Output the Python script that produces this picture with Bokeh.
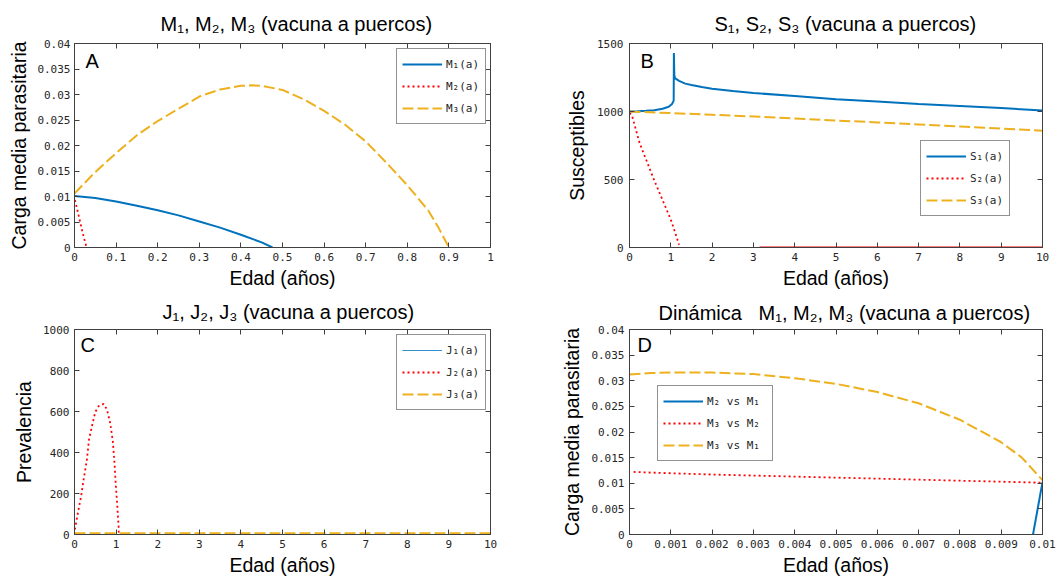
from bokeh.plotting import figure
from bokeh.models import Range1d, FixedTicker, LinearAxis, Label, Title
from bokeh.layouts import column, row
from bokeh.embed import file_html
from bokeh.resources import INLINE

# ---------------- data ----------------
# Panel A
a_m1_x = [0, 0.05, 0.1, 0.15, 0.2, 0.25, 0.3, 0.35, 0.4, 0.45, 0.476]
a_m1_y = [0.0101, 0.0097, 0.0090, 0.0082, 0.0073, 0.0063, 0.0051, 0.0039, 0.0025, 0.0010, 0.0]
a_m2_x = [0.001, 0.007, 0.013, 0.019, 0.025, 0.028]
a_m2_y = [0.0093, 0.0073, 0.0052, 0.0031, 0.0012, 0.0003]
a_m3_x = [0, 0.05, 0.1, 0.15, 0.2, 0.25, 0.3, 0.35, 0.4, 0.425, 0.45, 0.5, 0.55, 0.6, 0.65, 0.7, 0.75, 0.8,
          0.85, 0.875, 0.9]
a_m3_y = [0.0106, 0.0148, 0.0185, 0.0220, 0.0248, 0.0272, 0.0296, 0.0310, 0.0317, 0.0318, 0.0317, 0.0309,
          0.0291, 0.0268, 0.0241, 0.0208, 0.0166, 0.0122, 0.0073, 0.0039, 0.0]

# Panel B
b_s1_x = [0, 0.2, 0.4, 0.6, 0.8, 0.95, 1.03, 1.07, 1.075, 1.085, 1.1, 1.2, 1.35, 1.5, 1.75, 2, 2.5, 3, 4, 5, 6, 7, 8, 9, 10]
b_s1_y = [1000, 1002, 1005, 1010, 1020, 1035, 1055, 1080, 1430, 1270, 1245, 1225, 1205, 1195, 1180, 1168, 1150,
          1136, 1114, 1090, 1073, 1055, 1040, 1025, 1007]
b_s2_x = [0, 0.06, 0.15, 0.23, 0.3, 0.45, 0.6, 0.8, 1.0, 1.1, 1.2]
b_s2_y = [990, 970, 872, 782, 725, 610, 493, 350, 205, 115, 20]
b_s2_tail_x = [3.15, 10]
b_s2_tail_y = [0, 0]
b_s3_x = [0, 1, 2, 3, 4, 5, 6, 7, 8, 9, 10]
b_s3_y = [1000, 988, 976, 963, 949, 934, 920, 905, 890, 875, 858]

# Panel C
c_j1_x = [0, 10]
c_j1_y = [0, 0]
c_j2_x = [0, 0.016, 0.08, 0.16, 0.216, 0.296, 0.35, 0.43, 0.5, 0.58, 0.7, 0.78, 0.857, 0.92, 0.96, 0.99, 1.03, 1.06, 1.065]
c_j2_y = [0, 31, 104, 187, 264, 361, 465, 538, 598, 626, 637, 610, 545, 457, 353, 249, 136, 39, 7]
c_j3_x = [0, 10]
c_j3_y = [6, 6]

# Panel D
d_m21_x = [0.00977, 0.01]
d_m21_y = [0.0, 0.0102]
d_m32_x = [0.0001, 0.001, 0.002, 0.003, 0.004, 0.005, 0.006, 0.007, 0.008, 0.009, 0.01]
d_m32_y = [0.0122, 0.01195, 0.0117, 0.0115, 0.0113, 0.0111, 0.0109, 0.0107, 0.0105, 0.0103, 0.0101]
d_m31_x = [0, 0.0005, 0.001, 0.002, 0.003, 0.004, 0.005, 0.006, 0.007, 0.008, 0.009, 0.0095, 0.01]
d_m31_y = [0.0312, 0.0315, 0.0316, 0.0316, 0.0313, 0.0305, 0.0294, 0.0278, 0.0256, 0.0224, 0.0180, 0.0150, 0.0106]

# ticks
ticks_x_A = [round(i * 0.1, 1) for i in range(11)]
labels_x_A = ["0", "0.1", "0.2", "0.3", "0.4", "0.5", "0.6", "0.7", "0.8", "0.9", "1"]
ticks_y_M = [round(i * 0.005, 3) for i in range(9)]
labels_y_M = ["0", "0.005", "0.01", "0.015", "0.02", "0.025", "0.03", "0.035", "0.04"]
ticks_x_10 = list(range(11))
labels_x_10 = [str(i) for i in range(11)]
ticks_y_B = [0, 500, 1000, 1500]
labels_y_B = ["0", "500", "1000", "1500"]
ticks_y_C = [0, 200, 400, 600, 800, 1000]
labels_y_C = ["0", "200", "400", "600", "800", "1000"]
ticks_x_D = [round(i * 0.001, 3) for i in range(11)]
labels_x_D = ["0", "0.001", "0.002", "0.003", "0.004", "0.005", "0.006", "0.007", "0.008", "0.009", "0.01"]

BLUE = "#0072BD"
RED = "#FF0000"
YELLOW = "#EDB120"
AX = "#404040"
SANS = "Liberation Sans"
MONO = "DejaVu Sans Mono"


def make_panel(w, h, bl, br, bt, bb, xr, yr, xt, xl, yt, yl, title, tdx, tstand,
               ylabel, xstand, ystand, ytick_stand, letter, lx, ly):
    p = figure(width=w, height=h, output_backend="svg", toolbar_location=None,
               x_range=Range1d(*xr), y_range=Range1d(*yr),
               min_border_left=bl, min_border_right=br, min_border_top=bt, min_border_bottom=bb,
               background_fill_color="white", border_fill_color="white")
    p.grid.visible = False
    p.outline_line_color = AX
    p.outline_line_width = 1
    p.title = Title(text=title, align="left", offset=tdx, text_font=SANS,
                    text_font_size="20px", text_font_style="normal", text_color="black",
                    standoff=tstand)
    for ax, ticks, labels in ((p.xaxis[0], xt, xl), (p.yaxis[0], yt, yl)):
        ax.ticker = FixedTicker(ticks=ticks)
        ax.major_label_overrides = {t: s for t, s in zip(ticks, labels)}
        ax.major_tick_in = 5
        ax.major_tick_out = 0
        ax.minor_tick_line_color = None
        ax.axis_line_color = AX
        ax.major_tick_line_color = AX
        ax.major_label_text_font = MONO
        ax.major_label_text_font_size = "11px"
        ax.major_label_text_color = "#262626"
        ax.axis_label_text_font = SANS
        ax.axis_label_text_font_size = "19.5px"
        ax.axis_label_text_font_style = "normal"
        ax.axis_label_text_color = "black"
    p.xaxis[0].axis_label = "Edad (años)"
    p.xaxis[0].major_label_standoff = 5
    p.xaxis[0].axis_label_standoff = xstand
    p.yaxis[0].axis_label = ylabel
    p.yaxis[0].major_label_standoff = ytick_stand
    p.yaxis[0].axis_label_standoff = ystand
    # mirrored tick marks on top and right (no labels)
    for loc, ticks in (("above", xt), ("right", yt)):
        ax = LinearAxis(ticker=FixedTicker(ticks=ticks), major_label_text_color=None,
                        major_label_text_font_size="1px",
                        major_label_standoff=0, major_tick_in=5, major_tick_out=0,
                        minor_tick_line_color=None, axis_line_color=AX, major_tick_line_color=AX)
        p.add_layout(ax, loc)
    # panel letter
    p.add_layout(Label(x=xr[0], y=yr[1], x_offset=lx, y_offset=-ly, text=letter, text_font=SANS,
                       text_font_size="20px", text_baseline="top", text_align="left", text_color="black"))
    return p


def style_legend(p, loc, label_width):
    lg = p.legend[0]
    lg.location = loc
    lg.border_line_color = "#262626"
    lg.border_line_width = 1
    lg.background_fill_color = "white"
    lg.background_fill_alpha = 1
    lg.label_text_font = MONO
    lg.label_text_font_size = "11px"
    lg.label_text_color = "#262626"
    lg.glyph_width = 40
    lg.glyph_height = 20
    lg.label_height = 20
    lg.label_width = label_width
    lg.label_standoff = 4
    lg.spacing = 2
    lg.padding = 5
    lg.margin = 0


# Panel A
pA = make_panel(530, 291, 74, 40, 43, 44, (0, 1), (0, 0.04), ticks_x_A, labels_x_A, ticks_y_M, labels_y_M,
                "M₁, M₂, M₃ (vacuna a puercos)", 86, 18, "Carga media parasitaria", 3, 4, 4, "A", 11, 6)
pA.line(a_m1_x, a_m1_y, line_color=BLUE, line_width=2, legend_label="M₁(a)")
pA.line(a_m2_x, a_m2_y, line_color=RED, line_width=1.8, line_dash="2 3", legend_label="M₂(a)")
pA.line(a_m3_x, a_m3_y, line_color=YELLOW, line_width=2, line_dash="11 4", legend_label="M₃(a)")
style_legend(pA, (322, 123), 34)

# Panel B
pB = make_panel(530, 291, 99, 18, 43, 44, (0, 10), (0, 1500), ticks_x_10, labels_x_10, ticks_y_B, labels_y_B,
                "S₁, S₂, S₃ (vacuna a puercos)", 85, 18, "Susceptibles", 3, 6, 6, "B", 11, 6)
pB.line(b_s1_x, b_s1_y, line_color=BLUE, line_width=2, legend_label="S₁(a)")
pB.line(b_s2_x, b_s2_y, line_color=RED, line_width=1.8, line_dash="2 3", legend_label="S₂(a)")
pB.line(b_s2_tail_x, b_s2_tail_y, line_color=RED, line_width=2)
pB.line(b_s3_x, b_s3_y, line_color=YELLOW, line_width=2, line_dash="11 4", legend_label="S₃(a)")
style_legend(pB, (291, 31), 34)

# Panel C
pC = make_panel(530, 287, 74, 40, 38, 44, (0, 10), (0, 1000), ticks_x_10, labels_x_10, ticks_y_C, labels_y_C,
                "J₁, J₂, J₃ (vacuna a puercos)", 88, 13, "Prevalencia", 3, 5, 5, "C", 6, 4)
pC.line(c_j1_x, c_j1_y, line_color=BLUE, line_width=0.8, legend_label="J₁(a)")
pC.line(c_j2_x, c_j2_y, line_color=RED, line_width=1.8, line_dash="2 3", legend_label="J₂(a)")
pC.line(c_j3_x, c_j3_y, line_color=YELLOW, line_width=2, line_dash="11 4", legend_label="J₃(a)")
style_legend(pC, (322, 124), 34)

# Panel D
pD = make_panel(530, 287, 99, 18, 38, 44, (0, 0.01), (0, 0.04), ticks_x_D, labels_x_D, ticks_y_M, labels_y_M,
                "Dinámica\u00a0\u00a0 M₁, M₂, M₃ (vacuna a puercos)", 29, 12, "Carga media parasitaria", 3, 5, 5,
                "D", 8, 4)
pD.line(d_m21_x, d_m21_y, line_color=BLUE, line_width=2, legend_label="M₂ vs M₁")
pD.line(d_m32_x, d_m32_y, line_color=RED, line_width=1.8, line_dash="2 3", legend_label="M₃ vs M₂")
pD.line(d_m31_x, d_m31_y, line_color=YELLOW, line_width=2, line_dash="11 4", legend_label="M₃ vs M₁")
style_legend(pD, (28, 73), 60)

layout = column(row(pA, pB), row(pC, pD))
open("out.html", "w").write(file_html(layout, INLINE))
